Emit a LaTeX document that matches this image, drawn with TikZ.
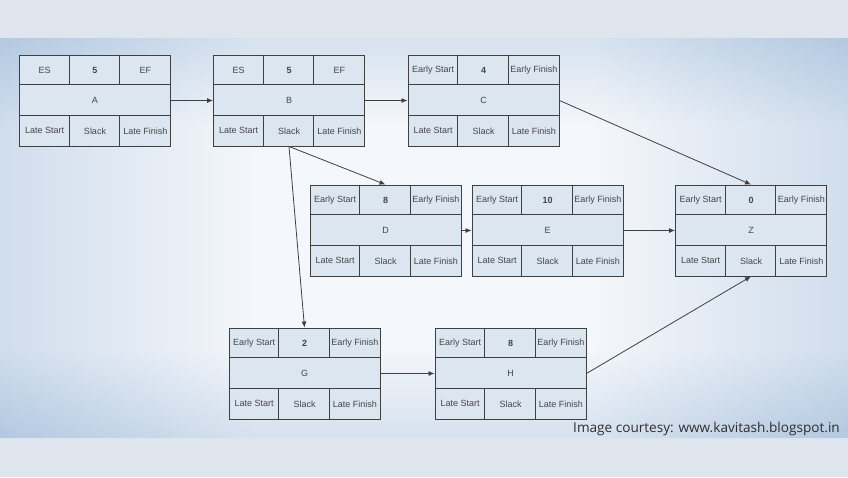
\documentclass[tikz,border=0pt]{standalone}
\usepackage{fontspec}
\setmainfont{Liberation Sans}
\newfontfamily\capfont{Open Sans}
\usetikzlibrary{arrows.meta,calc}
\definecolor{outerbg}{HTML}{DFE5EC}
\definecolor{bandblue}{HTML}{B3C9E1}
\definecolor{bandlight}{HTML}{F4F7FB}
\definecolor{cellfill}{HTML}{DCE6F1}
\definecolor{linec}{HTML}{404040}
\definecolor{txt}{HTML}{454545}
\definecolor{captxt}{HTML}{2E2E2E}
\pgfdeclarehorizontalshading{bandh}{100bp}{color(0bp)=(bandblue); color(25bp)=(bandblue); color(40bp)=(bandlight); color(60bp)=(bandlight); color(75bp)=(bandblue); color(100bp)=(bandblue)}
\pgfdeclareverticalshading{bandv}{100bp}{color(0bp)=(bandblue); color(25bp)=(bandblue); color(36bp)=(bandlight); color(64bp)=(bandlight); color(75bp)=(bandblue); color(100bp)=(bandblue)}
\tikzset{
  actnode/.style={draw=linec, line width=0.9pt, fill=cellfill, minimum width=151pt, minimum height=91pt, inner sep=0pt},
  gridline/.style={draw=linec, line width=0.9pt},
  celltext/.style={text=txt, font=\fontsize{9}{10}\selectfont, inner sep=0pt},
  numtext/.style={text=txt, font=\bfseries\fontsize{9}{10}\selectfont, inner sep=0pt},
  conn/.style={draw=linec, line width=0.8pt, -{Latex[length=6pt,width=5pt]}},
}
\newcommand\actbox[6]{%
  \node[actnode] (#1) at (#2) {};
  \draw[gridline] ($(#1.north west)+(0,30.33)$) -- ++(151,0);
  \draw[gridline] ($(#1.north west)+(0,60.67)$) -- ++(151,0);
  \draw[gridline] ($(#1.north west)+(50.33,0)$) -- ++(0,30.33);
  \draw[gridline] ($(#1.north west)+(100.67,0)$) -- ++(0,30.33);
  \draw[gridline] ($(#1.north west)+(50.33,60.67)$) -- ++(0,30.33);
  \draw[gridline] ($(#1.north west)+(100.67,60.67)$) -- ++(0,30.33);
  \node[celltext] (#1-es) at ($(#1.center)+(-50.33,-30.33)$) {#3};
  \node[numtext]  (#1-du) at ($(#1.center)+(0,-30.33)$) {#4};
  \node[celltext] (#1-ef) at ($(#1.center)+(50.33,-30.33)$) {#5};
  \node[celltext] (#1-nm) at (#1.center) {#6};
  \node[celltext] (#1-ls) at ($(#1.center)+(-50.33,30.33)$) {Late Start};
  \node[celltext] (#1-sl) at ($(#1.center)+(0,30.33)$) {Slack};
  \node[celltext] (#1-lf) at ($(#1.center)+(50.33,30.33)$) {Late Finish};
}
\begin{document}
\begin{tikzpicture}[x=1pt,y=-1pt]
\useasboundingbox (0,0) rectangle (848,477);
\fill[outerbg] (0,0) rectangle (848,477);
\shade[shading=bandh] (0,38) rectangle (848,437);
\shade[shading=bandv, opacity=0.45] (0,38) rectangle (848,437);

\actbox{A}{95,100.5}{ES}{5}{EF}{A}
\actbox{B}{289,100.5}{ES}{5}{EF}{B}
\actbox{C}{483.5,100.5}{Early Start}{4}{Early Finish}{C}
\actbox{D}{385.5,230.5}{Early Start}{8}{Early Finish}{D}
\actbox{E}{547.5,230.5}{Early Start}{10}{Early Finish}{E}
\actbox{Z}{751,230.5}{Early Start}{0}{Early Finish}{Z}
\actbox{G}{304.5,373.5}{Early Start}{2}{Early Finish}{G}
\actbox{H}{510.5,373.5}{Early Start}{8}{Early Finish}{H}

\draw[conn] (A.east) -- (B.west);
\draw[conn] (B.east) -- (C.west);
\draw[conn] (C.east) -- (Z.north);
\draw[conn] (B.south) -- (D.north);
\draw[conn] (B.south) -- (G.north);
\draw[conn] (D.east) -- (E.west);
\draw[conn] (E.east) -- (Z.west);
\draw[conn] (G.east) -- (H.west);
\draw[conn] (H.east) -- (Z.south);

\node[anchor=base east, inner sep=0pt, text=captxt, font=\capfont\fontsize{13.6}{15}\selectfont] (cap) at (840,432) {Image courtesy: www.kavitash.blogspot.in};
\end{tikzpicture}
\end{document}
